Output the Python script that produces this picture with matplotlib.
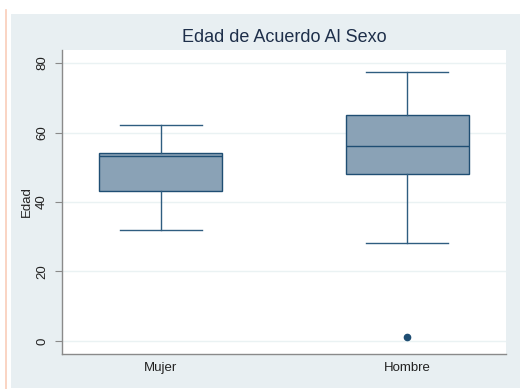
import matplotlib
matplotlib.use('Agg')
import matplotlib.pyplot as plt
from matplotlib.patches import Rectangle
from matplotlib.lines import Line2D

plt.rcParams['font.family'] = ['Liberation Sans', 'DejaVu Sans']

# values
groups = ['Mujer', 'Hombre']
q1 = [43.3, 48.0]
med = [53.1, 56.2]
q3 = [54.2, 65.1]
whis_lo = [32.0, 28.1]
whis_hi = [62.1, 77.3]
fliers = [[], [1.1]]
yticks = [0, 20, 40, 60, 80]

W, H = 521, 389
fig = plt.figure(figsize=(W / 100, H / 100), dpi=100, facecolor='white')

# Stata-like outer panel and the thin orange rule on the left
fig.patches.append(Rectangle((11 / W, 1 - 388 / H), (520 - 11) / W, (388 - 14) / H,
                             transform=fig.transFigure, facecolor='#e8eff2',
                             edgecolor='none', zorder=-5))
fig.lines.append(Line2D([6 / W, 6 / W], [0, 1 - 10 / H], transform=fig.transFigure,
                        color='#f9cdb9', lw=1.2, zorder=-5))

ax = fig.add_axes([62 / W, 1 - 354 / H, 444 / W, 304 / H])
ax.set_facecolor('white')

navy = '#1f4e73'
stats = []
for i, g in enumerate(groups):
    stats.append(dict(label=g, med=med[i], q1=q1[i], q3=q3[i],
                      whislo=whis_lo[i], whishi=whis_hi[i], fliers=fliers[i]))

ax.bxp(stats, positions=[1, 2], widths=0.5, patch_artist=True,
       boxprops=dict(facecolor='#8aa2b6', edgecolor=navy, lw=1.0),
       medianprops=dict(color=navy, lw=1.0),
       whiskerprops=dict(color='#2f5d80', lw=1.0),
       capprops=dict(color='#2f5d80', lw=1.0),
       capwidths=0.333,
       flierprops=dict(marker='o', markerfacecolor=navy, markeredgecolor=navy,
                       markersize=4.5))

ax.set_xlim(0.598, 2.402)
ax.set_ylim(-3.75, 83.75)
ax.set_yticks(yticks)
ax.set_yticklabels([str(t) for t in yticks], rotation=90, va='center')
ax.grid(axis='y', color='#eaf2f3', lw=1.0)
ax.set_axisbelow(True)

for s in ['top', 'right']:
    ax.spines[s].set_visible(False)
for s in ['left', 'bottom']:
    ax.spines[s].set_color('#8a8a8a')
    ax.spines[s].set_linewidth(1.0)

ax.tick_params(axis='y', colors='#8a8a8a', labelcolor='#222222', labelsize=9.5,
               length=5, pad=5)
ax.tick_params(axis='x', length=0, labelcolor='#222222', labelsize=9.5, pad=6)
ax.set_ylabel('Edad', fontsize=9.5, color='#222222', labelpad=2)

fig.text(284 / W, 1 - 38 / H, 'Edad de Acuerdo Al Sexo', ha='center', va='center',
         fontsize=13, color='#1e2f4a')

fig.savefig('out.png', dpi=100, facecolor='white')
